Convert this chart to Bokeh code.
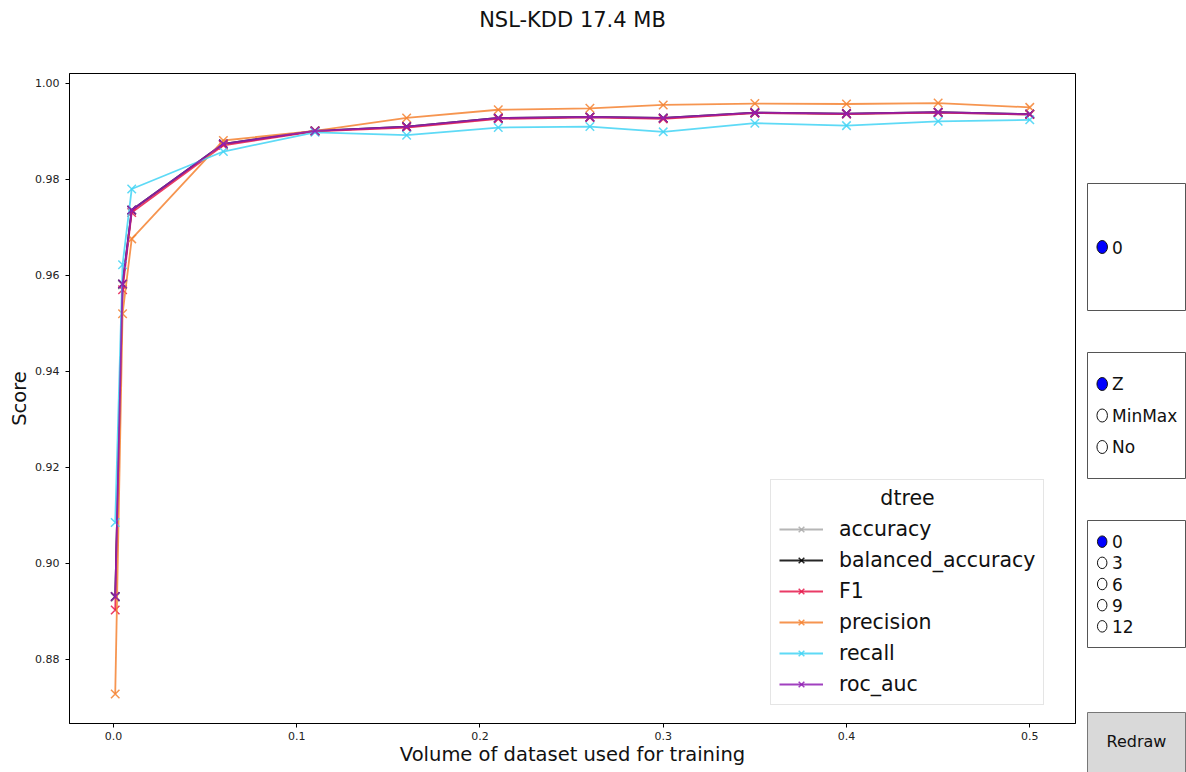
from bokeh.plotting import figure
from bokeh.models import Range1d, FixedTicker, Legend, LegendItem, Label, PrintfTickFormatter, Title
from bokeh.layouts import row, column
from bokeh.core.properties import value
from bokeh.embed import file_html
from bokeh.resources import INLINE

FONT = "DejaVu Sans"

# ---------------- data ----------------
title_text = "NSL-KDD 17.4 MB"
x_label = "Volume of dataset used for training"
y_label = "Score"
legend_title = "dtree"

volume = [0.001, 0.005, 0.01, 0.06, 0.11, 0.16, 0.21, 0.26, 0.30, 0.35, 0.40, 0.45, 0.50]

accuracy = [0.8929, 0.9580, 0.9735, 0.9873, 0.9901, 0.9909, 0.9927, 0.9929, 0.9927, 0.9938, 0.9936, 0.9939, 0.9935]
balanced_accuracy = [0.8931, 0.9582, 0.9736, 0.9874, 0.9901, 0.9910, 0.9928, 0.9930, 0.9928, 0.9939, 0.9937, 0.9940, 0.9936]
f1 = [0.8903, 0.9570, 0.9731, 0.9871, 0.9900, 0.9908, 0.9926, 0.9929, 0.9926, 0.9938, 0.9936, 0.9939, 0.9935]
precision = [0.8728, 0.9520, 0.9676, 0.9881, 0.9901, 0.9928, 0.9945, 0.9948, 0.9955, 0.9958, 0.9957, 0.9959, 0.9950]
recall = [0.9085, 0.9622, 0.9780, 0.9858, 0.9898, 0.9892, 0.9908, 0.9910, 0.9899, 0.9917, 0.9912, 0.9921, 0.9924]
roc_auc = [0.8931, 0.9582, 0.9736, 0.9874, 0.9901, 0.9910, 0.9928, 0.9930, 0.9928, 0.9939, 0.9937, 0.9940, 0.9936]

series_names = ["accuracy", "balanced_accuracy", "F1", "precision", "recall", "roc_auc"]
series_values = [accuracy, balanced_accuracy, f1, precision, recall, roc_auc]
series_colors = ["#a9a9a9", "#000000", "#e6194b", "#f58231", "#42d4f4", "#911eb4"]

x_ticks = [0.0, 0.1, 0.2, 0.3, 0.4, 0.5]
x_tick_labels = ["0.0", "0.1", "0.2", "0.3", "0.4", "0.5"]
y_ticks = [0.88, 0.90, 0.92, 0.94, 0.96, 0.98, 1.00]
y_tick_labels = ["0.88", "0.90", "0.92", "0.94", "0.96", "0.98", "1.00"]

radio_groups = [["0"], ["Z", "MinMax", "No"], ["0", "3", "6", "9", "12"]]
radio_selected = [0, 0, 0]
button_label = "Redraw"

# ---------------- ranges (matplotlib-like 5% margins) ----------------
xmin, xmax = min(volume), max(volume)
xpad = 0.05 * (xmax - xmin)
all_y = [v for s in series_values for v in s]
ymin, ymax = min(all_y), max(all_y)
ypad = 0.05 * (ymax - ymin)
xr = Range1d(xmin - xpad, xmax + xpad)
yr = Range1d(ymin - ypad, ymax + ypad)

PAGE_W, H = 1186, 772
MAIN_W = 1080
BL, BR, BT, BB = 69, 5, 73, 49

p = figure(width=MAIN_W, height=H, x_range=xr, y_range=yr,
           output_backend="svg", toolbar_location=None,
           min_border_left=BL, min_border_right=BR, min_border_top=BT, min_border_bottom=BB)

# blank spacer between the frame and the title, pushing the title up
p.add_layout(Title(text=" ", text_font_size="10px", standoff=29), "above")

p.title.text = title_text
p.title.align = "center"
p.title.text_font = FONT
p.title.text_font_size = "21px"
p.title.text_font_style = "normal"
p.title.text_color = "#111111"
p.title.standoff = 0

p.xgrid.visible = False
p.ygrid.visible = False
p.outline_line_color = "black"
p.outline_line_width = 1

p.xaxis.ticker = FixedTicker(ticks=x_ticks)
p.yaxis.ticker = FixedTicker(ticks=y_ticks)
p.xaxis.formatter = PrintfTickFormatter(format="%.1f")
p.yaxis.formatter = PrintfTickFormatter(format="%.2f")
p.xaxis.axis_label = x_label
p.yaxis.axis_label = y_label
for ax in (p.xaxis, p.yaxis):
    ax.axis_line_color = "black"
    ax.major_tick_line_color = "black"
    ax.major_tick_out = 4
    ax.major_tick_in = 0
    ax.minor_tick_line_color = None
    ax.major_label_text_font = FONT
    ax.major_label_text_font_size = "11px"
    ax.major_label_text_color = "#222222"
    ax.axis_label_text_font = FONT
    ax.axis_label_text_font_size = "19.5px"
    ax.axis_label_text_font_style = "normal"
    ax.axis_label_text_color = "#111111"
p.xaxis.major_label_standoff = 4
p.xaxis.axis_label_standoff = 0
p.yaxis.major_label_standoff = 6
p.yaxis.axis_label_standoff = 1

items = []
for name, vals, col in zip(series_names, series_values, series_colors):
    ln = p.line(volume, vals, line_color=col, line_width=1.8, line_alpha=0.85)
    mk = p.scatter(volume, vals, marker="x", size=12, line_color=col, line_width=1.5, line_alpha=0.85)
    items.append(LegendItem(label=name, renderers=[ln, mk]))

legend = Legend(items=items, location=(701, 18), title=" ",
                label_text_font=FONT, label_text_font_size="20.5px", label_text_color="#111111",
                title_text_font=FONT, title_text_font_size="20px", title_text_font_style="normal",
                title_standoff=5,
                glyph_width=44, glyph_height=20, label_height=20, label_standoff=16,
                spacing=7, padding=8, margin=0,
                border_line_color="#cccccc", border_line_width=1,
                background_fill_color="white", background_fill_alpha=0.0)
p.add_layout(legend, "center")

# legend title, centred over the legend box (reference pixel position converted to data)
frame_left, frame_top = BL, BT
frame_w = MAIN_W - BL - BR
frame_h = H - BT - BB
leg_cx_px, leg_title_px = 907, 497
lx = xr.start + (leg_cx_px - frame_left) / frame_w * (xr.end - xr.start)
ly = yr.end - (leg_title_px - frame_top) / frame_h * (yr.end - yr.start)
p.add_layout(Label(x=lx, y=ly, text=legend_title, text_align="center", text_baseline="middle",
                   text_font=FONT, text_font_size="20.5px", text_color="#111111", level="overlay"))

# ---------------- widget column (drawn in page pixel coordinates) ----------------
W_W = PAGE_W - MAIN_W
w = figure(width=W_W, height=H, x_range=Range1d(MAIN_W, PAGE_W), y_range=Range1d(H, 0),
           output_backend="svg", toolbar_location=None, min_border=0,
           x_axis_location=None, y_axis_location=None)
w.xgrid.visible = False
w.ygrid.visible = False
w.outline_line_color = None

panel_left, panel_right = 1087, 1185
panel_tops = [183, 352, 520]
panel_bottoms = [310, 478, 647]
w.quad(left=[panel_left] * 3, right=[panel_right] * 3, top=panel_tops, bottom=panel_bottoms,
       fill_color="white", line_color="#555555", line_width=1)

pw = panel_right - panel_left
for labels, sel, top, bot in zip(radio_groups, radio_selected, panel_tops, panel_bottoms):
    n = len(labels)
    ys = [top + (i + 1) / (n + 1) * (bot - top) for i in range(n)]
    cx = panel_left + 0.15 * pw
    tx = panel_left + 0.25 * pw
    fills = ["blue" if i == sel else "white" for i in range(n)]
    ew, eh = (10.5, 13) if n < 5 else (9.5, 11.5)
    w.ellipse(x=[cx] * n, y=ys, width=ew, height=eh, fill_color=fills, line_color="#111111", line_width=1)
    w.text(x=[tx] * n, y=ys, text=labels, text_font=value(FONT), text_font_size="17px",
           text_baseline="middle", text_align="left", text_color="#111111")

btn_top, btn_bot = 712, 772
w.quad(left=[panel_left], right=[panel_right], top=[btn_top], bottom=[btn_bot],
       fill_color="#d9d9d9", line_color="#777777", line_width=1)
w.text(x=[(panel_left + panel_right) / 2], y=[(btn_top + btn_bot) / 2 - 1], text=[button_label],
       text_font=value(FONT), text_font_size="16px", text_baseline="middle", text_align="center",
       text_color="#111111")

layout = row(p, column(w))
open("out.html", "w").write(file_html(layout, INLINE))
